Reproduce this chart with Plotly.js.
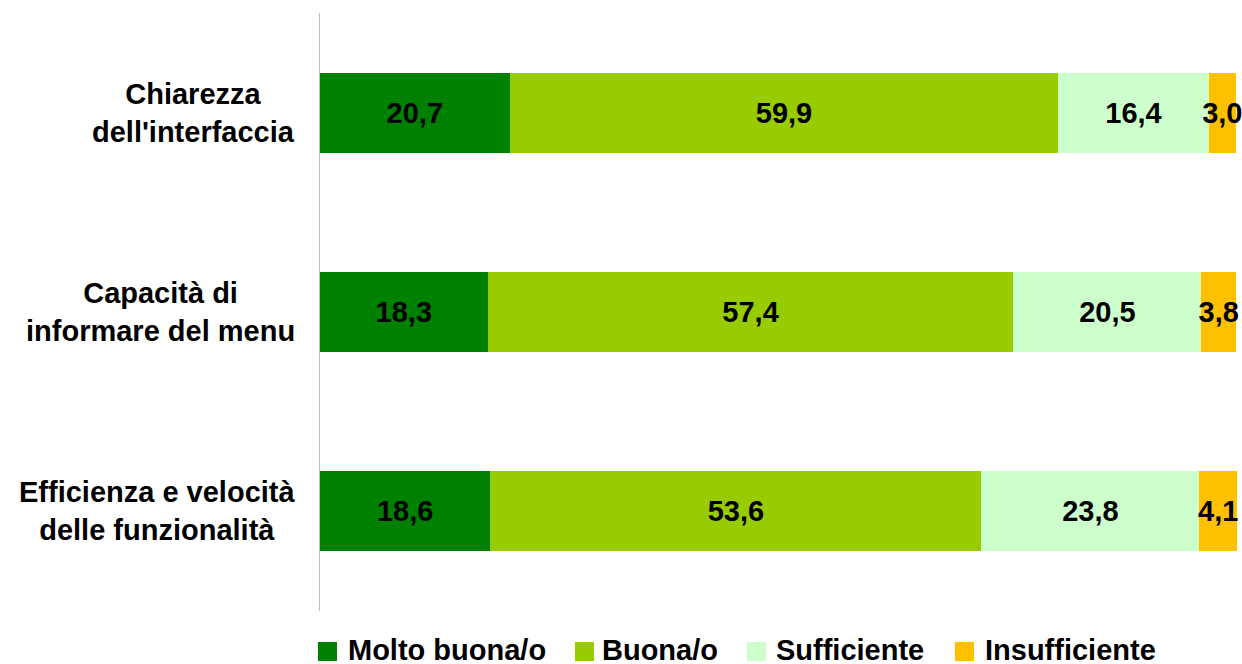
<!DOCTYPE html>
<html><head><meta charset="utf-8">
<script src="https://cdn.plot.ly/plotly-3.0.1.min.js"></script>
<style>html,body{margin:0;padding:0;background:#fff}#chart{width:1242px;height:664px}</style>
</head><body><div id="chart"></div>
<script>
const categories = ["Chiarezza<br>dell'interfaccia", "Capacità di<br>informare del menu", "Efficienza e velocità<br>delle funzionalità"];
const seriesNames = ["Molto buona/o", "Buona/o", "Sufficiente", "Insufficiente"];
const moltoBuona = [20.7, 18.3, 18.6];
const buona = [59.9, 57.4, 53.6];
const sufficiente = [16.4, 20.5, 23.8];
const insufficiente = [3.0, 3.8, 4.1];
const colors = ["#008000", "#99CC00", "#CCFFCC", "#FFC000"];

const FONT = "Liberation Sans, Arial, sans-serif";
const seriesValues = [moltoBuona, buona, sufficiente, insufficiente];

// plot area geometry (pixels)
const W = 1242, H = 664;
const M = {l: 320, r: 5, t: 13, b: 53};
const PW = W - M.l - M.r, PH = H - M.t - M.b;
const px2x = p => (p - M.l) / PW;
const py2y = p => (H - M.b - p) / PH;

const traces = seriesValues.map((vals, i) => ({
  type: 'bar', orientation: 'h',
  x: vals, y: categories,
  name: seriesNames[i],
  marker: {color: colors[i], line: {width: 0}},
  texttemplate: '%{x:.1f}',
  textposition: 'inside', insidetextanchor: 'middle',
  constraintext: 'none', textangle: 0, cliponaxis: false,
  insidetextfont: {family: FONT, size: 29, color: '#000', weight: 'bold'},
  showlegend: false, hoverinfo: 'skip'
}));

const annotations = categories.map(c => ({
  xref: 'paper', yref: 'y', x: px2x(297), y: c,
  xanchor: 'right', yanchor: 'middle', align: 'center',
  text: c, showarrow: false,
  font: {family: FONT, size: 29, color: '#000', weight: 'bold'}
}));

// custom legend (squares + labels) below the plot
const legendSquareX = [318, 575, 747, 955];
const legendTextX = [346, 600, 774, 983];
const shapes = [];
seriesNames.forEach((n, i) => {
  shapes.push({
    type: 'rect', xref: 'paper', yref: 'paper',
    x0: px2x(legendSquareX[i]), x1: px2x(legendSquareX[i] + 19),
    y0: py2y(661), y1: py2y(642),
    fillcolor: colors[i], line: {width: 0}
  });
  annotations.push({
    xref: 'paper', yref: 'paper', x: px2x(legendTextX[i]), y: py2y(650),
    xanchor: 'left', yanchor: 'middle', text: n, showarrow: false,
    font: {family: FONT, size: 29, color: '#000', weight: 'bold'}
  });
});

const layout = {
  width: W, height: H,
  margin: M,
  paper_bgcolor: '#fff', plot_bgcolor: '#fff',
  barmode: 'stack', bargap: 0.598,
  separators: ',.',
  font: {family: FONT, color: '#000', weight: 'bold'},
  xaxis: {range: [0, 100.1], showgrid: false, zeroline: false, showticklabels: false, ticks: '', showline: false, fixedrange: true},
  yaxis: {type: 'category', range: [2.5, -0.5], showticklabels: false, ticks: '', showgrid: false, zeroline: false,
          showline: true, linecolor: '#BFBFBF', linewidth: 1, fixedrange: true},
  showlegend: false,
  annotations: annotations,
  shapes: shapes
};

Plotly.newPlot('chart', traces, layout, {displayModeBar: false, staticPlot: true});
</script>
</body></html>
